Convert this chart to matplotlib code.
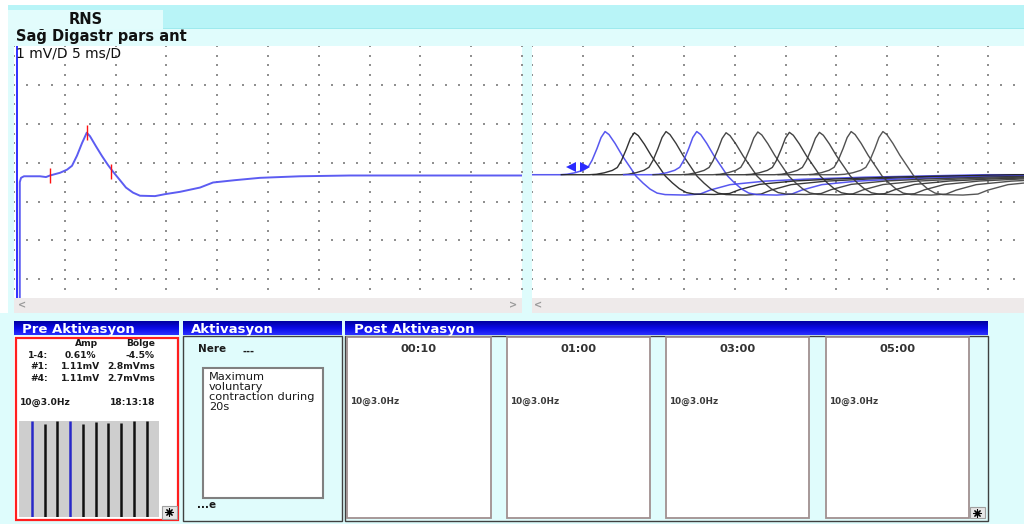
import numpy as np
import matplotlib
matplotlib.use("Agg")
import matplotlib.pyplot as plt
from matplotlib.patches import Rectangle
from matplotlib.colors import LinearSegmentedColormap

plt.rcParams['font.family'] = ['DejaVu Sans']

# ---------------- data ----------------
TAB_LABEL = "RNS"
MUSCLE = "Sağ Digastr pars ant"
SCALE_LABEL = "1 mV/D 5 ms/D"

# first response (left panel): time in ms, amplitude in mV (grid units)
LEFT_T = [0.57, 0.57, 0.69, 0.98, 2.56, 3.15, 3.54, 4.53, 5.22, 5.71, 6.20, 6.69,
          7.16, 7.48, 8.07, 8.66, 9.25, 9.74, 10.43, 11.02, 11.71, 12.40, 13.88,
          14.86, 16.34, 18.31, 19.59, 21.75, 24.21, 28.15, 33.07, 39.96, 50.0]
LEFT_V = [-3.48, -0.50, -0.39, -0.35, -0.35, -0.37, -0.33, -0.26, -0.18, -0.08, 0.18, 0.50,
          0.77, 0.68, 0.42, 0.17, -0.06, -0.23, -0.45, -0.64, -0.77, -0.85, -0.86,
          -0.81, -0.75, -0.64, -0.51, -0.45, -0.39, -0.35, -0.33, -0.33, -0.33]
CURSOR_T = 0.25
MARK_T = [3.51, 7.16, 9.55]
MARK_LO = [-0.53, 0.58, -0.42]
MARK_HI = [-0.14, 0.96, -0.04]

# train of 10 responses (right panel); template of sweep #1 relative to its peak
TEMPLATE_T = [-7.20, -4.44, -3.75, -2.96, -2.17, -1.68, -1.28, -0.79, -0.39, 0.0, 0.39,
              0.99, 1.68, 2.47, 3.06, 3.75, 4.44, 5.13, 5.92, 7.89, 9.37, 10.36, 12.33,
              15.78, 19.72, 25.64, 32.54, 37.48, 47.34]
TEMPLATE_V = [0.0, 0.0, 0.012, 0.051, 0.114, 0.191, 0.370, 0.676, 0.957, 1.11, 1.033,
              0.804, 0.497, 0.191, -0.038, -0.216, -0.370, -0.472, -0.511, -0.523, -0.497,
              -0.395, -0.255, -0.165, -0.114, -0.063, -0.026, 0.0, 0.0]
TEMPLATE_PEAK = 1.11
SWEEP_PEAK_T = [7.20, 10.09, 13.21, 16.24, 19.13, 22.26, 25.37, 28.33, 31.46, 34.59]
SWEEP_AMP = [1.11, 1.08, 1.11, 1.11, 1.08, 1.10, 1.09, 1.09, 1.11, 1.11]
SWEEP_BLUE = [True, False, False, True, False, False, False, False, False, False]
SWEEP_COLORS = ['#4646ee', '#1c1c1c', '#262626', '#4646ee', '#333333',
                '#3a3a3a', '#2c2c2c', '#353535', '#3c3c3c', '#444444']
RIGHT_BASELINE = -0.31
ONSET_T, ONSET_V = 4.57, -0.11

STATS_HEAD = ["Amp", "Bölge"]
STATS_ROWS = ["1-4:", "#1:", "#4:"]
STATS_AMP = ["0.61%", "1.11mV", "1.11mV"]
STATS_AREA = ["-4.5%", "2.8mVms", "2.7mVms"]
TRAIN = "10@3.0Hz"
CLOCK = "18:13:18"
NERE = "Nere"
NOTE_LINES = ["Maximum", "voluntary", "contraction during", "20s"]
POST_TIMES = ["00:10", "01:00", "03:00", "05:00"]
PANEL_TITLES = ["Pre Aktivasyon", "Aktivasyon", "Post Aktivasyon"]

# ---------------- figure ----------------
W, H = 1024, 524
fig = plt.figure(figsize=(W / 100, H / 100), dpi=100)


def px_axes(x0, y0, x1, y1, **kw):
    return fig.add_axes([x0 / W, 1 - y1 / H, (x1 - x0) / W, (y1 - y0) / H], **kw)


bg = px_axes(0, 0, W, H)
bg.axis('off')

BG = '#defcfc'


def rect(x0, y0, x1, y1, fc, ec='none', lw=0, z=1):
    bg.add_patch(Rectangle((x0, y0), x1 - x0, y1 - y0, facecolor=fc,
                           edgecolor=ec, linewidth=lw, zorder=z))


rect(0, 0, W, H, BG, z=0)
rect(0, 0, W, 5, 'white')
rect(0, 0, 8, 313, 'white')
rect(8, 5, W, 28.5, '#b8f4f7')
rect(8, 27.5, W, 28.5, '#9eeaee', z=2)
rect(8, 10, 163, 28.5, '#e2fcfc', z=3)
rect(8, 28.5, W, 46, '#e0fcfc')
bg.text(85.5, 19.5, TAB_LABEL, ha='center', va='center', fontsize=10.5, fontweight='bold',
        color='#111', zorder=4)
bg.text(16.5, 37, MUSCLE, ha='left', va='center', fontsize=10.5, fontweight='bold', color='#111')

# scroll bars
rect(14, 298, 522, 313, '#eeeaea')
rect(532, 298, W, 313, '#eeeaea')
for x, s in [(22, '<'), (513, '>'), (538, '<')]:
    bg.text(x, 305.5, s, ha='center', va='center', fontsize=7, fontweight='bold', color='#9a9a9a')

# panel headers with gradient
cmap = LinearSegmentedColormap.from_list('hdr', ['#0000a0', '#0a0ae6', '#2a30ff'])
grad = np.linspace(0, 1, 32).reshape(-1, 1)
headers = [(14, 179), (182.7, 341.7), (345, 988)]
for (x0, x1), title in zip(headers, PANEL_TITLES):
    bg.imshow(grad, extent=(x0, x1, 335.5, 322), aspect='auto', cmap=cmap, zorder=2)
    bg.text(x0 + 8.5, 329, title, ha='left', va='center', fontsize=9.5,
            fontweight='bold', color='white', zorder=3)

# Pre Aktivasyon body
rect(14, 335.5, 179, 521, 'white')
rect(15.5, 337.5, 178, 520, 'none', ec='#ff1e1e', lw=1.6, z=3)
tk = dict(fontsize=6.6, fontweight='bold', color='#1a1a1a', va='center')
bg.text(87, 343.5, STATS_HEAD[0], ha='center', **tk)
bg.text(155, 343.5, STATS_HEAD[1], ha='right', **tk)
for i, y in enumerate([355, 366.7, 378.3]):
    bg.text(48, y, STATS_ROWS[i], ha='right', **tk)
    bg.text(80.5, y, STATS_AMP[i], ha='center', **tk)
    bg.text(155, y, STATS_AREA[i], ha='right', **tk)
bg.text(20, 402.3, TRAIN, ha='left', **tk)
bg.text(155, 402.3, CLOCK, ha='right', **tk)


def star_button(x0, y0, x1, y1):
    rect(x0, y0, x1, y1, '#e6e6e6', ec='#a0a0a0', lw=0.8, z=3)
    bg.scatter([(x0 + x1) / 2], [(y0 + y1) / 2], marker=(8, 2, 0), s=28,
               color='black', linewidths=0.8, zorder=4)


star_button(161.7, 506, 176.7, 518.5)

# Aktivasyon body
rect(182.7, 335.5, 341.7, 521, '#e0fcfc', ec='#404040', lw=1)
bg.text(197.7, 348.5, NERE, ha='left', va='center', fontsize=7.5, fontweight='bold', color='#1a1a1a')
bg.text(242.7, 351.5, "---", ha='left', va='center', fontsize=7, fontweight='bold', color='#1a1a1a')
rect(202.7, 368.3, 323.3, 497.7, 'white', ec='#808080', lw=1.5, z=2)
for i, line in enumerate(NOTE_LINES):
    bg.text(209, 377 + 10 * i, line, ha='left', va='center', fontsize=8.2, color='#1a1a1a', zorder=3)
bg.text(196.7, 504.5, "...e", ha='left', va='center', fontsize=7.5, fontweight='bold', color='#1a1a1a')

# Post Aktivasyon body
rect(345, 335.5, 988, 521, '#e0fcfc', ec='#404040', lw=1)
boxes = [(347.3, 490.7), (506.7, 650), (666, 809.3), (825.7, 969)]
for (x0, x1), lab in zip(boxes, POST_TIMES):
    rect(x0, 337.3, x1, 518.3, 'white', ec='#a09090', lw=1.3, z=2)
    bg.text((x0 + x1) / 2, 348.5, lab, ha='center', va='center', fontsize=8.2,
            fontweight='bold', color='#333333', zorder=3)
    bg.text(x0 + 3, 401.7, TRAIN, ha='left', va='center', fontsize=6.4,
            fontweight='bold', color='#3a3a3a', zorder=3)
star_button(970, 506.7, 984.5, 518.3)

bg.set_xlim(0, W)
bg.set_ylim(H, 0)

# amplitude bars of the train (Pre Aktivasyon thumbnail)
axB = px_axes(19.3, 421, 159.3, 516.7)
axB.set_facecolor('#cecece')
for sp in axB.spines.values():
    sp.set_visible(False)
axB.set_xticks([])
axB.set_yticks([])
axB.set_xlim(0, len(SWEEP_AMP) + 1)
axB.set_ylim(0, max(SWEEP_AMP))
idx = np.arange(1, len(SWEEP_AMP) + 1)
bar_cols = ['#2828c8' if b else '#111111' for b in SWEEP_BLUE]
axB.vlines(idx, 0, SWEEP_AMP, colors=bar_cols, lw=1.8)

# ---------------- waveform axes ----------------
YLIM = (-3.48, 3.0)


def grid_dots(ax, xmax):
    cols = np.arange(0, xmax + 1e-6, 5.0)
    ys = np.arange(-3.25, 3.0 + 1e-6, 0.25)
    cx, cy = np.meshgrid(cols, ys)
    rows = np.arange(-3, 3, 1.0)
    xs = np.arange(0, xmax + 1e-6, 1.25)
    rx, ry = np.meshgrid(xs, rows)
    ax.scatter(np.concatenate([cx.ravel(), rx.ravel()]),
               np.concatenate([cy.ravel(), ry.ravel()]),
               s=1.2, marker='s', color='#909090', linewidths=0, zorder=1)


def style(ax, xmax):
    ax.set_xlim(0, xmax)
    ax.set_ylim(*YLIM)
    ax.set_facecolor('white')
    for sp in ax.spines.values():
        sp.set_visible(False)
    ax.set_xticks([])
    ax.set_yticks([])
    grid_dots(ax, xmax)


axL = px_axes(14, 46, 522, 298)
style(axL, 50.0)
axL.axvline(CURSOR_T, color='#2020ff', lw=1.3, zorder=3)
axL.plot(LEFT_T, LEFT_V, color='#5c5cf2', lw=1.4, zorder=4, solid_joinstyle='round')
axL.vlines(MARK_T, MARK_LO, MARK_HI, color='#ff1010', lw=1.0, zorder=5)

axR = px_axes(532, 46, W, 298)
R_XMAX = 48.5
style(axR, R_XMAX)
tt = np.array(TEMPLATE_T)
tv = np.array(TEMPLATE_V)
for k, (pk, amp, col) in enumerate(zip(SWEEP_PEAK_T, SWEEP_AMP, SWEEP_COLORS)):
    axR.plot(pk + tt, RIGHT_BASELINE + tv * amp / TEMPLATE_PEAK, color=col,
             lw=1.1 if SWEEP_BLUE[k] else 1.0, alpha=0.9, zorder=3 + k * 0.01)
axR.plot([ONSET_T - 0.68], [ONSET_V], marker='<', ms=7, color='#2a2aff', zorder=6, mew=0)
axR.plot([ONSET_T + 0.68], [ONSET_V], marker='>', ms=7, color='#2a2aff', zorder=6, mew=0)

# overlay text on the left plot
ov = px_axes(0, 0, W, H)
ov.patch.set_visible(False)
ov.axis('off')
ov.set_xlim(0, W)
ov.set_ylim(H, 0)
ov.text(15.5, 53.5, SCALE_LABEL, ha='left', va='center', fontsize=10, color='#111')

fig.savefig('out.png', dpi=100)
